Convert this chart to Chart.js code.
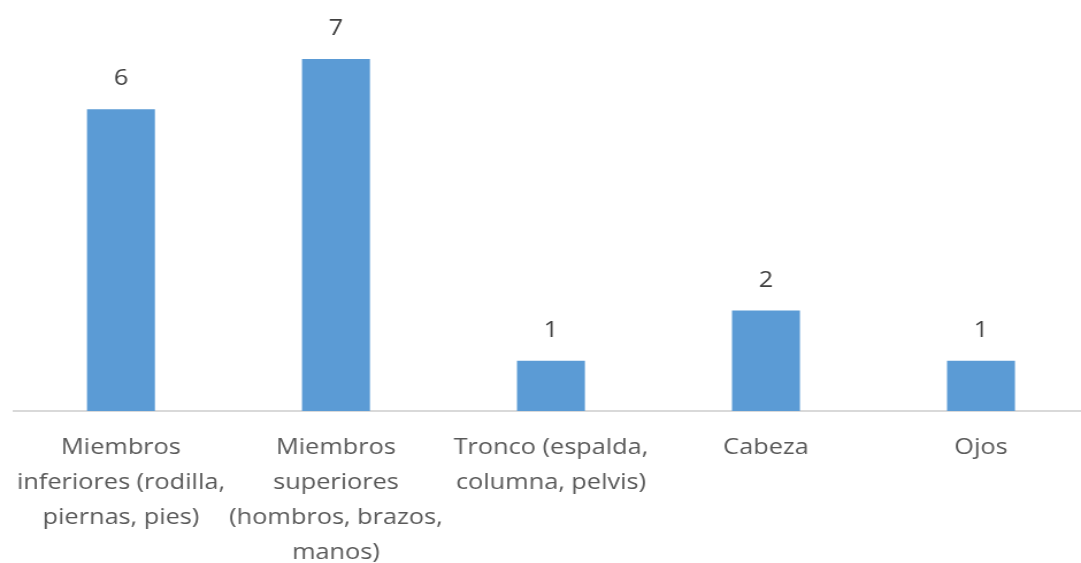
<!DOCTYPE html>
<html>
<head>
<meta charset="utf-8">
<script src="https://cdn.jsdelivr.net/npm/chart.js@4.4.1/dist/chart.umd.min.js"></script>
<style>
  html, body { margin: 0; padding: 0; background: #ffffff; overflow: hidden; width: 1081px; height: 563px; }
  #wrap { width: 948px; height: 563px; transform: scaleX(1.15); transform-origin: 0 0; }
  canvas { display: block; }
</style>
</head>
<body>
<div id="wrap"><canvas id="chart" width="948" height="563"></canvas></div>
<script>
// Body regions (wrapped over several lines) and number of cases per region
const categories = [
  ["Miembros", "inferiores (rodilla,", "piernas, pies)"],
  ["Miembros", "superiores", "(hombros, brazos,", "manos)"],
  ["Tronco (espalda,", "columna, pelvis)"],
  ["Cabeza"],
  ["Ojos"]
];
const values = [6, 7, 1, 2, 1];
const axisMax = 8;

const FONT = "'Open Sans', 'Noto Sans', sans-serif";

// Writes each bar's value above it
const valueLabels = {
  id: 'valueLabels',
  afterDatasetsDraw(chart) {
    const ctx = chart.ctx;
    const meta = chart.getDatasetMeta(0);
    ctx.save();
    ctx.font = "22px " + FONT;
    ctx.fillStyle = '#404040';
    ctx.textAlign = 'center';
    ctx.textBaseline = 'middle';
    meta.data.forEach((bar, i) => {
      ctx.fillText(String(values[i]), bar.x, bar.y - 30);
    });
    ctx.restore();
  }
};

new Chart(document.getElementById('chart'), {
  type: 'bar',
  data: {
    labels: categories,
    datasets: [{
      data: values,
      backgroundColor: '#5B9BD5',
      borderWidth: 0,
      categoryPercentage: 1,
      barPercentage: 0.316
    }]
  },
  options: {
    responsive: false,
    animation: false,
    devicePixelRatio: 1,
    layout: { padding: { top: 8.6, left: 11.7, right: 1.5, bottom: 0 } },
    plugins: { legend: { display: false }, tooltip: { enabled: false } },
    scales: {
      x: {
        grid: { display: false, drawTicks: false },
        border: { display: true, color: '#d9d9d9', width: 2 },
        ticks: {
          color: '#595959',
          font: { family: FONT, size: 22, lineHeight: '35px' },
          padding: 19,
          maxRotation: 0,
          autoSkip: false
        },
        afterFit(scale) {
          scale.height = 152;
          // the outer labels may overhang the plot edges
          scale.paddingLeft = 0;
          scale.paddingRight = 0;
        }
      },
      y: {
        display: false,
        min: 0,
        max: axisMax,
        beginAtZero: true
      }
    }
  },
  plugins: [valueLabels]
});
</script>
</body>
</html>
